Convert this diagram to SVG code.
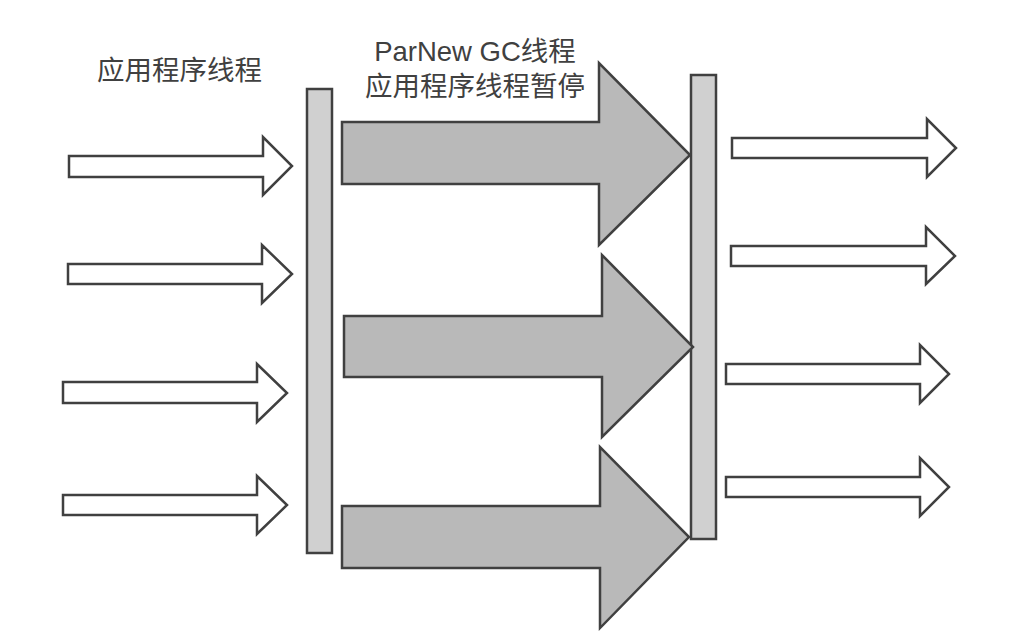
<svg xmlns="http://www.w3.org/2000/svg" width="1014" height="638" viewBox="0 0 1014 638">
<style>
.lbl{font-family:"Liberation Sans","Noto Sans CJK SC",sans-serif;font-size:27.5px;fill:#404040;}
.bar{fill:#d0d0d0;stroke:#404040;stroke-width:2.5;}
.big{fill:#b9b9b9;stroke:#404040;stroke-width:2.5;stroke-linejoin:miter;}
.small{fill:#ffffff;stroke:#404040;stroke-width:2.5;stroke-linejoin:miter;}
</style>
<rect width="1014" height="638" fill="#ffffff"/>
<g id="labels">
<text class="lbl" x="97" y="80">应用程序线程</text>
<text class="lbl" x="475" y="61" text-anchor="middle">ParNew GC线程</text>
<text class="lbl" x="475" y="96" text-anchor="middle">应用程序线程暂停</text>
</g>
<g id="bar-left"><rect class="bar" x="307" y="89" width="25" height="464"/></g>
<g id="bar-right"><rect class="bar" x="691" y="75" width="25" height="464"/></g>
<g id="connectors">
<polygon class="small" points="69,156 263,156 263,137 292,166 263,195 263,177 69,177"/>
<polygon class="small" points="68,264 262,264 262,245 292,274 262,303 262,284 68,284"/>
<polygon class="small" points="63,382 257,382 257,364 287,393 257,422 257,403 63,403"/>
<polygon class="small" points="63,495 257,495 257,476 287,505 257,534 257,515 63,515"/>
<polygon class="big" points="342,122 599,122 599,63 690,155 599,245 599,184 342,184"/>
<polygon class="big" points="344,316 602,316 602,255 693,347 602,437 602,377 344,377"/>
<polygon class="big" points="342,506 600,506 600,447 689,537 600,628 600,568 342,568"/>
<polygon class="small" points="732,138 927,138 927,119 956,148 927,177 927,158 732,158"/>
<polygon class="small" points="731,246 926,246 926,227 955,256 926,284 926,266 731,266"/>
<polygon class="small" points="726,364 920,364 920,345 949,374 920,403 920,384 726,384"/>
<polygon class="small" points="726,477 920,477 920,458 949,487 920,516 920,497 726,497"/>
</g>
</svg>
